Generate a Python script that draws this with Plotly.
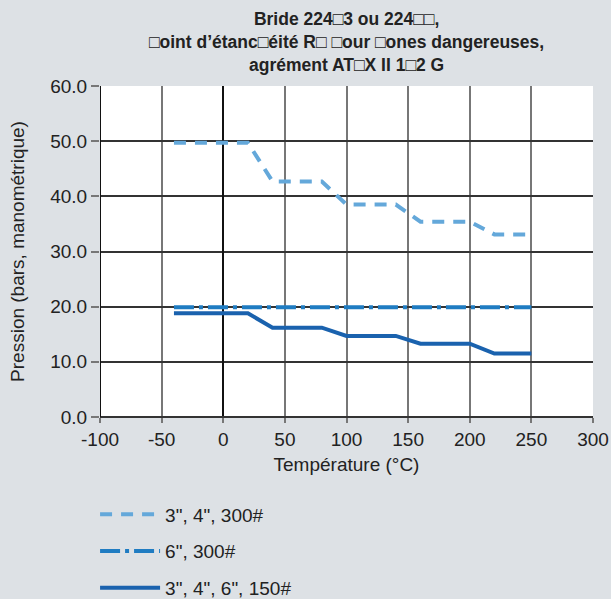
import plotly.graph_objects as go

# Data
temp_300_34 = [-40, 20, 40, 80, 100, 140, 160, 200, 220, 250]
pres_300_34 = [49.7, 49.7, 42.7, 42.7, 38.5, 38.5, 35.4, 35.4, 33.1, 33.1]

temp_300_6 = [-40, 250]
pres_300_6 = [19.9, 19.9]

temp_150 = [-40, 20, 40, 80, 100, 140, 160, 200, 220, 250]
pres_150 = [18.8, 18.8, 16.2, 16.2, 14.7, 14.7, 13.3, 13.3, 11.5, 11.5]

names = ['3", 4", 300#', '6", 300#', '3", 4", 6", 150#']
x_ticks = [-100, -50, 0, 50, 100, 150, 200, 250, 300]
y_ticks = [0, 10, 20, 30, 40, 50, 60]

title_lines = ["Bride 224\u25a13 ou 224\u25a1\u25a1,",
               "\u25a1oint d\u2019étanc\u25a1éité R\u25a1 \u25a1our \u25a1ones dangereuses,",
               "agrément AT\u25a1X II 1\u25a12 G"]

fig = go.Figure()
fig.add_trace(go.Scatter(x=temp_300_34, y=pres_300_34, mode="lines", name=names[0],
                         line=dict(color="#64a8da", width=4, dash="12px,9px"), legendgroup="a"))
fig.add_trace(go.Scatter(x=temp_300_6, y=pres_300_6, mode="lines", name=names[1],
                         line=dict(color="#1f7cc2", width=4, dash="20px,5px,4px,5px"), legendgroup="b"))
fig.add_trace(go.Scatter(x=temp_150, y=pres_150, mode="lines", name=names[2],
                         line=dict(color="#1a62ae", width=4), legendgroup="c"))

font = "Liberation Sans, Arial, sans-serif"
fs = 19
fig.update_layout(
    width=611, height=599,
    paper_bgcolor="#dde1e5", plot_bgcolor="white",
    margin=dict(l=100, r=18, t=86, b=182, autoexpand=False),
    font=dict(family=font, size=fs, color="#222222"),
    showlegend=True,
    legend=dict(x=-0.01, xanchor="left", y=-0.237, yanchor="top", bgcolor="rgba(0,0,0,0)",
                font=dict(family=font, size=fs, color="#222222"), tracegroupgap=9,
                itemwidth=60),
    xaxis=dict(range=[-100, 300], tickvals=x_ticks, ticktext=[str(v) for v in x_ticks],
               showgrid=True, gridcolor="#777777", gridwidth=2,
               zeroline=True, zerolinecolor="#111111", zerolinewidth=2,
               ticks="outside", ticklen=5, tickcolor="#777777", tickwidth=1.5,
               tickfont=dict(size=fs), automargin=False,
               showline=False, title=dict(text="Température (°C)", standoff=8,
                                          font=dict(size=fs))),
    yaxis=dict(range=[0, 60], tickvals=y_ticks, tickformat=".1f",
               showgrid=True, gridcolor="#333333", gridwidth=1.5,
               zeroline=True, zerolinecolor="#333333", zerolinewidth=1.5,
               ticks="outside", ticklen=8, tickcolor="#777777", tickwidth=1.5,
               tickfont=dict(size=fs), automargin=False,
               showline=False, title=dict(text="Pression (bars, manométrique)", standoff=20,
                                          font=dict(size=fs))),
)
fig.add_annotation(text="<br>".join(title_lines), xref="paper", yref="paper",
                   x=0.5, xanchor="center", y=1.0 + 79 / 331, yanchor="top",
                   showarrow=False, align="center",
                   font=dict(family=font, size=17.5, color="#222222", weight="bold"))
fig.add_shape(type="line", xref="x", yref="paper", x0=-100, x1=-100, y0=0, y1=1,
              line=dict(color="#111111", width=2), layer="above")
fig.write_html("out.html", config={"displayModeBar": False},
               post_script="document.body.style.margin='0';")
